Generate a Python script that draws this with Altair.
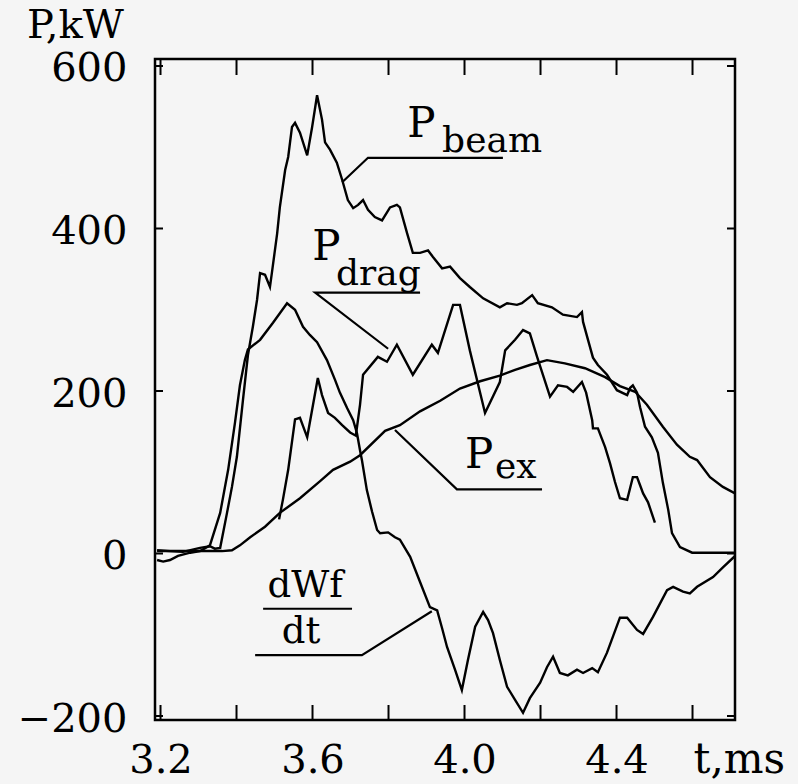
import altair as alt
import pandas as pd

# ---------------- data ----------------
beam_t = [3.191, 3.225, 3.259, 3.304, 3.330, 3.343, 3.357, 3.375, 3.388, 3.401, 3.417, 3.430, 3.443, 3.454,
          3.462, 3.475, 3.488, 3.493, 3.507, 3.514, 3.528, 3.536, 3.546, 3.554, 3.567, 3.586, 3.599, 3.612,
          3.625, 3.633, 3.646, 3.664, 3.678, 3.693, 3.707, 3.720, 3.733, 3.746, 3.764, 3.783, 3.804, 3.822,
          3.830, 3.849, 3.864, 3.883, 3.904, 3.917, 3.941, 3.962, 3.988, 4.014, 4.049, 4.093, 4.112, 4.138,
          4.151, 4.178, 4.193, 4.230, 4.259, 4.296, 4.309, 4.312, 4.325, 4.338, 4.351, 4.375, 4.401, 4.428,
          4.436, 4.443, 4.454, 4.462, 4.475, 4.493, 4.509, 4.522, 4.536, 4.546, 4.567, 4.599, 4.712]
beam_p = [4, 3, 2, 7, 9, 6, 7, 50, 82, 119, 189, 244, 279, 312,
          345, 343, 328, 345, 394, 426, 472, 488, 525, 530, 518, 490, 525, 564,
          534, 506, 497, 481, 460, 435, 425, 429, 435, 423, 414, 410, 426, 429,
          426, 394, 370, 370, 373, 365, 351, 353, 339, 328, 314, 303, 308, 306,
          308, 318, 308, 303, 294, 291, 297, 285, 263, 241, 232, 220, 201, 195,
          204, 207, 198, 180, 156, 143, 124, 87, 54, 25, 8, 1, 1]

dwf_t = [3.191, 3.207, 3.225, 3.246, 3.278, 3.304, 3.323, 3.330, 3.357, 3.378, 3.396, 3.409, 3.422, 3.430,
         3.462, 3.496, 3.533, 3.554, 3.575, 3.593, 3.612, 3.638, 3.659, 3.672, 3.691, 3.707, 3.717, 3.725,
         3.730, 3.743, 3.757, 3.770, 3.778, 3.799, 3.817, 3.830, 3.857, 3.883, 3.909, 3.928, 3.941, 3.954,
         3.975, 3.993, 4.009, 4.028, 4.049, 4.062, 4.075, 4.093, 4.112, 4.133, 4.154, 4.172, 4.199, 4.217,
         4.233, 4.251, 4.272, 4.296, 4.312, 4.336, 4.351, 4.375, 4.409, 4.428, 4.454, 4.470, 4.496, 4.533,
         4.549, 4.575, 4.593, 4.612, 4.654, 4.680, 4.712]
dwf_p = [-8, -10, -8, -3, 1, 3, 8, 10, 50, 103, 161, 207, 238, 251,
         263, 284, 308, 300, 279, 269, 260, 238, 214, 198, 179, 164, 148, 127,
         115, 78, 51, 29, 25, 26, 20, 17, -4, -35, -66, -70, -92, -115,
         -143, -168, -131, -90, -72, -82, -98, -131, -164, -180, -196, -178, -159, -140,
         -127, -147, -150, -143, -147, -141, -146, -122, -79, -79, -94, -99, -78, -45,
         -41, -47, -49, -41, -29, -17, -3]

drag_t = [3.512, 3.522, 3.536, 3.554, 3.567, 3.586, 3.599, 3.614, 3.625, 3.641, 3.659, 3.678, 3.699, 3.714,
          3.725, 3.733, 3.772, 3.796, 3.822, 3.864, 3.914, 3.930, 3.970, 3.988, 4.014, 4.054, 4.093, 4.107,
          4.133, 4.154, 4.172, 4.191, 4.225, 4.246, 4.270, 4.286, 4.309, 4.320, 4.336, 4.338, 4.351, 4.370,
          4.383, 4.396, 4.409, 4.428, 4.436, 4.443, 4.454, 4.462, 4.470, 4.483, 4.501]
drag_p = [42, 66, 103, 165, 167, 143, 177, 216, 195, 173, 167, 158, 149, 145,
          183, 220, 242, 236, 257, 220, 257, 247, 306, 306, 250, 173, 211, 250,
          263, 275, 271, 242, 193, 207, 205, 199, 211, 198, 164, 154, 154, 131,
          111, 88, 68, 66, 81, 94, 94, 84, 74, 63, 38]

pex_t = [3.191, 3.304, 3.362, 3.388, 3.409, 3.436, 3.475, 3.514, 3.567, 3.620, 3.654, 3.699, 3.725, 3.791,
         3.830, 3.883, 3.936, 3.988, 4.041, 4.093, 4.133, 4.172, 4.217, 4.264, 4.317, 4.370, 4.409, 4.449,
         4.480, 4.522, 4.559, 4.593, 4.612, 4.646, 4.680, 4.712]
pex_p = [3, 3, 3, 4, 10, 20, 33, 50, 68, 89, 103, 113, 121, 151,
         158, 175, 188, 203, 212, 219, 226, 232, 238, 234, 228, 217, 206, 199,
         183, 156, 134, 119, 115, 94, 82, 74]

x_ticks = [3.2, 3.4, 3.6, 3.8, 4.0, 4.2, 4.4, 4.6]
x_labels = [3.2, 3.6, 4.0, 4.4]
y_ticks = [-200, 0, 200, 400, 600]

# annotation texts and anchor points (data coordinates)
main_labels = ["P", "P", "P"]
main_t = [3.849, 3.599, 4.001]
main_p = [513, 361, 105]
sub_labels = ["beam", "drag", "ex"]
sub_t = [3.941, 3.662, 4.080]
sub_p = [494, 331, 93]
frac_labels = ["dWf", "dt"]
frac_t = [3.581, 3.570]
frac_p = [-53, -110]

# leader / underline paths: (path id, t, p)
leaders = [
    ("beam", [3.678, 3.746, 4.101], [457, 487, 487]),
    ("drag", [3.799, 3.607, 3.883], [252, 321, 321]),
    ("ex", [3.817, 3.980, 4.204], [152, 79, 79]),
    ("dwf", [3.914, 3.730, 3.449], [-71, -125, -125]),
    ("bar", [3.470, 3.704], [-68, -68]),
]

# ---------------- chart ----------------
W, H = 580, 661
FONT = "DejaVu Serif"
xs = alt.Scale(domain=[3.1855, 4.7118], nice=False, zero=False)
ys = alt.Scale(domain=[-204.9, 608.6], nice=False, zero=False)


def X():
    return alt.X("t:Q", scale=xs, axis=alt.Axis(
        values=x_labels, format=".1f", ticks=False, tickSize=0, domain=False, grid=False,
        labelFont=FONT, labelFontSize=40, labelColor="black", labelPadding=52,
        labelBaseline="alphabetic", labelFlush=False, labelOverlap=False,
        title="t,ms", titleFont=FONT, titleFontSize=42, titleFontWeight="normal", titleColor="black",
        titleX=538, titleY=52, titleAlign="left", titleBaseline="alphabetic"))


def Y():
    return alt.Y("p:Q", scale=ys, axis=alt.Axis(
        values=y_ticks, format="d", ticks=False, tickSize=0, domain=False, grid=False,
        labelFont=FONT, labelFontSize=40, labelColor="black", labelPadding=28, labelOffset=3,
        labelAlign="right", labelBaseline="middle", labelFlush=False, labelOverlap=False,
        title="P,kW", titleFont=FONT, titleFontSize=40, titleFontWeight="normal", titleColor="black",
        titleAngle=0, titleX=-80, titleY=-22, titleAlign="center", titleBaseline="alphabetic"))


rows = []
for name, ts, ps in [("beam", beam_t, beam_p), ("dwf", dwf_t, dwf_p),
                     ("drag", drag_t, drag_p), ("ex", pex_t, pex_p)]:
    for i, (t, p) in enumerate(zip(ts, ps)):
        rows.append({"series": name, "i": i, "t": t, "p": p})
curves = pd.DataFrame(rows)

lrows = []
for name, ts, ps in leaders:
    for i, (t, p) in enumerate(zip(ts, ps)):
        lrows.append({"seg": name, "i": i, "t": t, "p": p})
lead_df = pd.DataFrame(lrows)

lines = alt.Chart(curves).mark_line(color="black", strokeWidth=2.4, clip=True).encode(
    x=X(), y=Y(), detail="series:N", order="i:Q")

lead = alt.Chart(lead_df).mark_line(color="black", strokeWidth=2.2).encode(
    x=X(), y=Y(), detail="seg:N", order="i:Q")

xt = pd.DataFrame({"t": x_ticks})
yt = pd.DataFrame({"p": y_ticks})
tick_b = alt.Chart(xt).mark_rule(color="black", strokeWidth=2).encode(
    x=X(), y=alt.value(H), y2=alt.value(H - 15))
tick_t = alt.Chart(xt).mark_rule(color="black", strokeWidth=2).encode(
    x=X(), y=alt.value(0), y2=alt.value(16))
tick_l = alt.Chart(yt).mark_rule(color="black", strokeWidth=2).encode(
    y=Y(), x=alt.value(0), x2=alt.value(8))
tick_r = alt.Chart(yt).mark_rule(color="black", strokeWidth=2).encode(
    y=Y(), x=alt.value(W - 8), x2=alt.value(W))

main_df = pd.DataFrame({"t": main_t, "p": main_p, "txt": main_labels})
sub_df = pd.DataFrame({"t": sub_t, "p": sub_p, "txt": sub_labels})
frac_df = pd.DataFrame({"t": frac_t, "p": frac_p, "txt": frac_labels})

t_main = alt.Chart(main_df).mark_text(font=FONT, fontSize=42, align="left", baseline="alphabetic",
                                      color="black").encode(x=X(), y=Y(), text="txt:N")
t_sub = alt.Chart(sub_df).mark_text(font=FONT, fontSize=36, align="left", baseline="alphabetic",
                                    color="black").encode(x=X(), y=Y(), text="txt:N")
t_frac = alt.Chart(frac_df).mark_text(font=FONT, fontSize=37, align="center", baseline="alphabetic",
                                      color="black").encode(x=X(), y=Y(), text="txt:N")

chart = alt.layer(lines, lead, tick_b, tick_t, tick_l, tick_r, t_main, t_sub, t_frac).properties(
    width=W, height=H,
    padding={"left": 155, "top": 59, "right": 63, "bottom": 64},
    autosize=alt.AutoSizeParams(type="none"),
    background="#f5f5f5",
).configure_view(stroke="black", strokeWidth=2.5)

chart.save("out.html", embed_options={"renderer": "svg", "actions": False})
